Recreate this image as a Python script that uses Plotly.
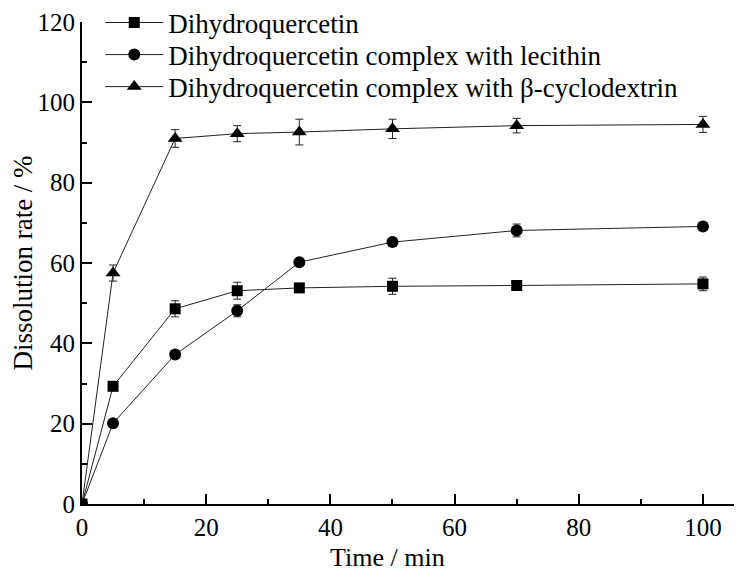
"""
Dissolution rate of dihydroquercetin and its complexes over time.
"""
import plotly.graph_objects as go

time_min = [0, 5, 15, 25, 35, 50, 70, 100]

dhq = [0, 29.3, 48.6, 53.1, 53.8, 54.2, 54.4, 54.8]
dhq_err = [0, 0.8, 2.0, 2.1, 0.6, 2.0, 1.0, 1.7]

dhq_lecithin = [0, 20.1, 37.2, 48.1, 60.2, 65.2, 68.1, 69.1]
dhq_lecithin_err = [0, 0.5, 0.6, 1.5, 0.6, 0.8, 1.6, 1.0]

dhq_cd = [0, 57.5, 91.0, 92.2, 92.6, 93.4, 94.2, 94.5]
dhq_cd_err = [0, 2.0, 2.2, 2.0, 3.2, 2.4, 1.8, 2.0]

series_names = [
    "Dihydroquercetin",
    "Dihydroquercetin complex with lecithin",
    "Dihydroquercetin complex with β-cyclodextrin",
]

FONT = "Times New Roman, Liberation Serif, serif"
FS = 25

fig = go.Figure()
for name, y, err, symbol, size, leg in [
    (series_names[0], dhq, dhq_err, "square", 11, "legend"),
    (series_names[1], dhq_lecithin, dhq_lecithin_err, "circle", 12, "legend2"),
    (series_names[2], dhq_cd, dhq_cd_err, "triangle-up", 13, "legend3"),
]:
    fig.add_trace(
        go.Scatter(
            x=time_min,
            y=y,
            name=name,
            legend=leg,
            mode="lines+markers",
            line=dict(color="#222222", width=1),
            marker=dict(symbol=symbol, size=size, color="black"),
            error_y=dict(type="data", array=err, color="#222222", thickness=1, width=4),
        )
    )

axis_common = dict(
    showline=True,
    linecolor="black",
    linewidth=2,
    ticks="inside",
    ticklen=10,
    tickwidth=1.5,
    tickcolor="black",
    showgrid=False,
    zeroline=False,
    mirror=False,
    automargin=False,
    tickfont=dict(family=FONT, size=FS, color="black"),
    minor=dict(ticks="inside", ticklen=5, tickwidth=1.5, tickcolor="black"),
)


def legend_row(y):
    # one legend per row so the row spacing can match the original
    return dict(
        x=0.028,
        y=y,
        xanchor="left",
        yanchor="middle",
        bgcolor="rgba(0,0,0,0)",
        font=dict(family=FONT, size=27, color="black"),
        itemwidth=58,
    )


# page body adds an 8px offset, so margins are shifted to compensate
fig.update_layout(
    width=744,
    height=573,
    margin=dict(l=74, r=18, t=14, b=77, autoexpand=False),
    paper_bgcolor="white",
    plot_bgcolor="white",
    font=dict(family=FONT, size=FS, color="black"),
    showlegend=True,
    legend=legend_row(0.998),
    legend2=legend_row(0.9315),
    legend3=legend_row(0.865),
    xaxis=dict(
        **axis_common,
        range=[0, 105],
        tickvals=[0, 20, 40, 60, 80, 100],
    ),
    yaxis=dict(
        **axis_common,
        range=[0, 120],
        tickvals=[0, 20, 40, 60, 80, 100, 120],
        title=dict(text="Dissolution rate / %", font=dict(family=FONT, size=27), standoff=0),
    ),
    annotations=[
        dict(
            text="Time / min",
            xref="paper",
            yref="paper",
            x=0.468,
            y=-0.112,
            xanchor="center",
            yanchor="middle",
            showarrow=False,
            font=dict(family=FONT, size=26, color="black"),
        )
    ],
)
fig.update_xaxes(minor_tickvals=[10, 30, 50, 70, 90])
fig.update_yaxes(minor_tickvals=[10, 30, 50, 70, 90, 110])

fig.write_html("out.html")
